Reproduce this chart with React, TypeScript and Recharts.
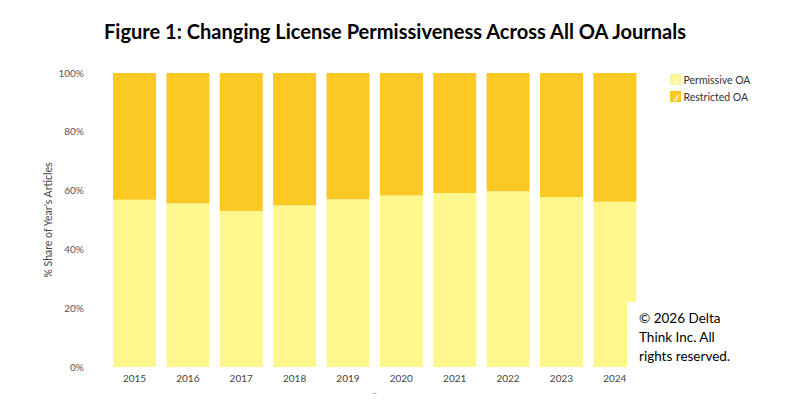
import React from "react";
import { BarChart, Bar, XAxis, YAxis } from "recharts";

const years = ["2015", "2016", "2017", "2018", "2019", "2020", "2021", "2022", "2023", "2024"];
const permissive = [56.9, 55.7, 53.1, 55.0, 57.1, 58.3, 59.2, 59.8, 57.8, 56.2];
const restricted = [43.1, 44.3, 46.9, 45.0, 42.9, 41.7, 40.8, 40.2, 42.2, 43.8];
const yTicks = [0, 20, 40, 60, 80, 100];

const PERM = "#FFF78D";
const REST = "#FCC824";

const data = years.map((y, i) => ({ year: y, permissive: permissive[i], restricted: restricted[i] }));

const legendItems = [
  { name: "Permissive OA", color: PERM },
  { name: "Restricted OA", color: REST },
];

const LegendContent = () => (
  <svg width={120} height={40} style={{ display: "block" }}>
    {legendItems.map((it, i) => (
      <g key={it.name} transform={`translate(0.5, ${i * 17 + 0.5})`}>
        <rect x={0} y={0} width={10} height={10} fill={it.color} stroke={i === 0 ? "#FBF3A0" : it.color} />
        <path d="M3.5 7.5 L5 9 L7.5 3.5" stroke="#fff" strokeWidth={1.2} fill="none" />
        <text x={13} y={9} fontSize={10.5} fill="#333" fontFamily="Lato">{it.name}</text>
      </g>
    ))}
  </svg>
);

export default function App() {
  return (
    <div style={{ position: "absolute", left: 0, top: 0, width: 808, height: 420, background: "#fff", fontFamily: "Lato" }}>
      <BarChart
        width={808}
        height={420}
        data={data}
        margin={{ top: 73, right: 166.5, bottom: 0, left: 0 }}
        barCategoryGap="9.8%"
      >
        <XAxis
          dataKey="year"
          axisLine={false}
          tickLine={false}
          tickSize={0}
          tickMargin={8}
          height={53}
          tick={{ fontSize: 10, fill: "#444", fontFamily: "Lato" }}
          label={{ value: "–", position: "insideBottom", offset: 24, fontSize: 9, fill: "#999" }}
        />
        <YAxis
          type="number"
          domain={[0, 100]}
          ticks={yTicks}
          tickFormatter={(v: number) => `${v}%`}
          axisLine={false}
          tickLine={false}
          tickSize={0}
          tickMargin={24}
          width={107.8}
          tick={{ fontSize: 10, fill: "#555", fontFamily: "Lato" }}
          label={{
            content: (props: any) => {
              const vb = props.viewBox || {};
              const cx = 48;
              const cy = (vb.y ?? 73) + (vb.height ?? 294) / 2;
              return (
                <text
                  x={cx}
                  y={cy}
                  transform={`rotate(-90, ${cx}, ${cy})`}
                  textAnchor="middle"
                  dominantBaseline="central"
                  fontSize={10.5}
                  fill="#444"
                  fontFamily="Lato"
                >
                  % Share of Year's Articles
                </text>
              );
            },
          }}
        />
        <Bar dataKey="permissive" name="Permissive OA" stackId="a" fill={PERM} isAnimationActive={false} />
        <Bar dataKey="restricted" name="Restricted OA" stackId="a" fill={REST} isAnimationActive={false} />
      </BarChart>
      <div style={{ position: "absolute", left: 670, top: 74 }}>
        <LegendContent />
      </div>
      <svg width={808} height={420} style={{ position: "absolute", left: 0, top: 0, pointerEvents: "none" }}>
        <text
          x={104}
          y={39}
          fontSize={20}
          fontWeight={700}
          fontFamily="Lato"
          fill="#000"
          textLength={582}
          lengthAdjust="spacingAndGlyphs"
        >
          Figure 1: Changing License Permissiveness Across All OA Journals
        </text>
        <rect x={627} y={302} width={120} height={72} fill="#fff" />
        <g fontFamily="Lato" fontSize={13.5} fill="#000">
          <text x={639} y={323}>© 2026 Delta</text>
          <text x={639} y={342}>Think Inc. All</text>
          <text x={639} y={361}>rights reserved.</text>
        </g>
      </svg>
    </div>
  );
}
